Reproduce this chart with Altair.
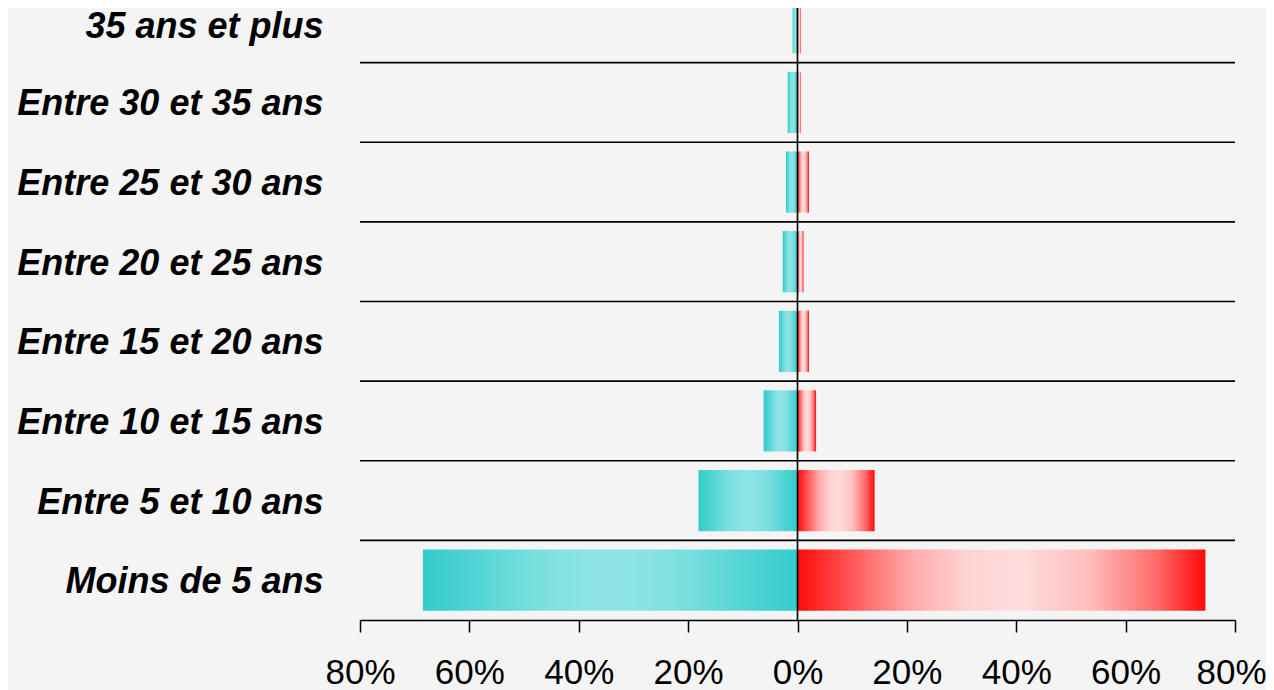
import altair as alt
import pandas as pd

# Categories from top to bottom
categories = [
    "35 ans et plus",
    "Entre 30 et 35 ans",
    "Entre 25 et 30 ans",
    "Entre 20 et 25 ans",
    "Entre 15 et 20 ans",
    "Entre 10 et 15 ans",
    "Entre 5 et 10 ans",
    "Moins de 5 ans",
]
left_values = [0.9, 1.8, 2.1, 2.7, 3.4, 6.2, 18.1, 68.5]   # left side (%)
right_values = [0.6, 0.6, 2.1, 1.1, 2.1, 3.4, 14.1, 74.6]  # right side (%)
x_ticks = [-80, -60, -40, -20, 0, 20, 40, 60, 80]

left_df = pd.DataFrame({"cat": categories, "v": [-v for v in left_values]})
right_df = pd.DataFrame({"cat": categories, "v": right_values})
cat_df = pd.DataFrame({"cat": categories})
zero_df = pd.DataFrame({"z": [0]})

FONT = "Liberation Sans"

y_range = [-25, 612]
y_scale = alt.Scale(domain=categories, range=y_range, paddingInner=0.23, paddingOuter=0.115)
y_scale_rules = alt.Scale(domain=categories, range=y_range, paddingInner=0, paddingOuter=0)
x_scale = alt.Scale(domain=[-80, 80], nice=False, zero=False)

x_axis = alt.Axis(
    values=x_ticks,
    labelExpr="abs(datum.value) + '%'",
    title=None,
    tickSize=12,
    tickColor="black",
    tickWidth=1.5,
    domainColor="black",
    domainWidth=1.5,
    labelFontSize=35,
    labelFont=FONT,
    labelColor="black",
    labelPadding=23,
    labelOffset={"condition": {"test": "datum.value == 80", "value": -4}, "value": 0},
    labelFlush=False,
    labelOverlap=False,
    grid=False,
)

y_axis = alt.Axis(
    title=None,
    ticks=False,
    tickSize=0,
    domain=False,
    labelFontSize=36,
    labelFont=FONT,
    labelFontStyle="italic",
    labelFontWeight="bold",
    labelColor="black",
    labelPadding=37,
    labelOffset={"condition": {"test": "datum.value == '35 ans et plus'", "value": 4}, "value": 2},
    labelLimit=500,
    grid=False,
)

cyan_grad = alt.Gradient(
    gradient="linear",
    x1=0, x2=1, y1=0, y2=0,
    stops=[
        alt.GradientStop(offset=0.0, color="#33cbcb"),
        alt.GradientStop(offset=0.15, color="#55d5d5"),
        alt.GradientStop(offset=0.3, color="#7adfdf"),
        alt.GradientStop(offset=0.45, color="#8ee4e4"),
        alt.GradientStop(offset=0.55, color="#8ee4e4"),
        alt.GradientStop(offset=0.7, color="#7adfdf"),
        alt.GradientStop(offset=0.85, color="#55d5d5"),
        alt.GradientStop(offset=1.0, color="#33cbcb"),
    ],
)

red_grad = alt.Gradient(
    gradient="linear",
    x1=0, x2=1, y1=0, y2=0,
    stops=[
        alt.GradientStop(offset=0.0, color="#ff0a0a"),
        alt.GradientStop(offset=0.12, color="#ff5050"),
        alt.GradientStop(offset=0.28, color="#ffaaaa"),
        alt.GradientStop(offset=0.42, color="#ffd4d4"),
        alt.GradientStop(offset=0.55, color="#ffdcdc"),
        alt.GradientStop(offset=0.72, color="#ffbcbc"),
        alt.GradientStop(offset=0.88, color="#ff6a6a"),
        alt.GradientStop(offset=1.0, color="#ff0a0a"),
    ],
)

left_bars = alt.Chart(left_df).mark_bar(color=cyan_grad).encode(
    y=alt.Y("cat:N", scale=y_scale, axis=y_axis, sort=categories),
    x=alt.X("v:Q", scale=x_scale, axis=x_axis),
    x2=alt.datum(0),
)

right_bars = alt.Chart(right_df).mark_bar(color=red_grad).encode(
    y=alt.Y("cat:N", scale=y_scale, axis=None, sort=categories),
    x=alt.X("v:Q", scale=x_scale),
    x2=alt.datum(0),
)

hrules = alt.Chart(cat_df).mark_rule(color="black", strokeWidth=1.6).encode(
    y=alt.Y("cat:N", scale=y_scale_rules, axis=None, bandPosition=0, sort=categories),
)

vrule = alt.Chart(zero_df).mark_rule(color="black", strokeWidth=1.6).encode(
    x=alt.X("z:Q", scale=x_scale),
)

chart = (
    alt.layer(left_bars, right_bars, hrules, vrule)
    .resolve_scale(y="independent")
    .properties(
        width=875,
        height=612,
        padding={"left": 352, "top": 0, "right": 31, "bottom": 70},
        autosize=alt.AutoSizeParams(type="none"),
        background="#f4f4f4",
    )
    .configure_view(strokeWidth=0)
)

chart.save("out.html", embed_options={"renderer": "svg", "actions": False})
